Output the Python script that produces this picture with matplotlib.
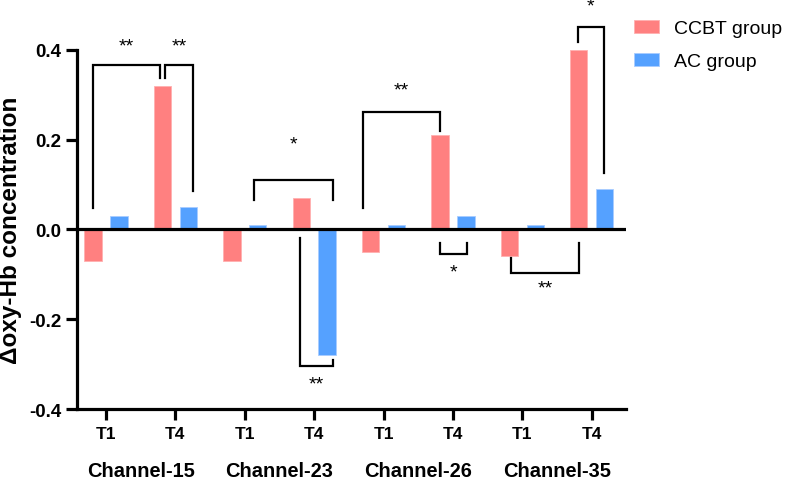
import matplotlib.pyplot as plt
import numpy as np

plt.rcParams['font.family'] = ['Liberation Sans', 'DejaVu Sans']

channels = ['Channel-15', 'Channel-23', 'Channel-26', 'Channel-35']
times = ['T1', 'T4']
ccbt = [-0.07, 0.32, -0.07, 0.07, -0.05, 0.21, -0.06, 0.40]
ac = [0.03, 0.05, 0.01, -0.28, 0.01, 0.03, 0.01, 0.09]

pink = '#FF8080'
blue = '#55A1FF'

fig = plt.figure(figsize=(7.85, 4.81), dpi=100)
ax = fig.add_axes([0.098, 0.1476, 0.699, 0.7464])

x = np.arange(len(ccbt))
off = 0.187
w = 0.25
ax.bar(x - off, ccbt, w, color=pink, edgecolor='#FFB0B0', linewidth=0.6, label='CCBT group', zorder=2)
ax.bar(x + off, ac, w, color=blue, edgecolor='#A8CCFF', linewidth=0.6, label='AC group', zorder=2)

ax.axhline(0, color='black', lw=2.3, zorder=3)
ax.set_xlim(-0.42, 7.49)
ax.set_ylim(-0.4, 0.4)

for s in ['top', 'right']:
    ax.spines[s].set_visible(False)
for s in ['left', 'bottom']:
    ax.spines[s].set_linewidth(2.3)

ax.set_yticks([-0.4, -0.2, 0.0, 0.2, 0.4])
ax.set_yticklabels(['-0.4', '-0.2', '0.0', '0.2', '0.4'])
ax.set_xticks(x)
ax.set_xticklabels(times * len(channels))
ax.tick_params(width=2.3, length=8, pad=4)
ax.tick_params(axis='x', labelsize=12.5)
ax.tick_params(axis='y', labelsize=13.5, pad=3)
for lab in ax.get_xticklabels() + ax.get_yticklabels():
    lab.set_fontweight('bold')

for i, ch in enumerate(channels):
    ax.text(2 * i + 0.5, -0.172, ch, transform=ax.get_xaxis_transform(),
            ha='center', va='center', fontsize=14.4, fontweight='bold')

ax.set_ylabel('Δoxy-Hb concentration', fontsize=17.5, fontweight='bold', labelpad=5)


def bracket(x1, x2, y_top, y1, y2, label, ly):
    ax.plot([x1, x1, x2, x2], [y1, y_top, y_top, y2], color='black', lw=1.6,
            clip_on=False, zorder=4, solid_joinstyle='miter')
    ax.text((x1 + x2) / 2, ly, label, ha='center', va='center', fontsize=14, clip_on=False)


# channel-15
bracket(-0.187, 0.778, 0.366, 0.049, 0.337, '**', 0.41)
bracket(0.85, 1.254, 0.366, 0.337, 0.085, '**', 0.41)
# channel-23
bracket(2.13, 3.27, 0.11, 0.066, 0.066, '*', 0.19)
bracket(2.795, 3.27, -0.304, -0.02, -0.29, '**', -0.345)
# channel-26
bracket(3.70, 4.81, 0.261, 0.049, 0.219, '**', 0.31)
bracket(4.81, 5.20, -0.054, -0.029, -0.029, '*', -0.095)
# channel-35
bracket(5.84, 6.82, -0.098, -0.063, -0.029, '**', -0.13)
bracket(6.80, 7.18, 0.451, 0.418, 0.127, '*', 0.498)

fig.legend(loc='upper left', bbox_to_anchor=(0.785, 0.993), frameon=False,
           fontsize=14, handlelength=1.3, handleheight=0.68, labelspacing=0.8,
           handletextpad=0.75)

fig.savefig('out.png', dpi=100)
